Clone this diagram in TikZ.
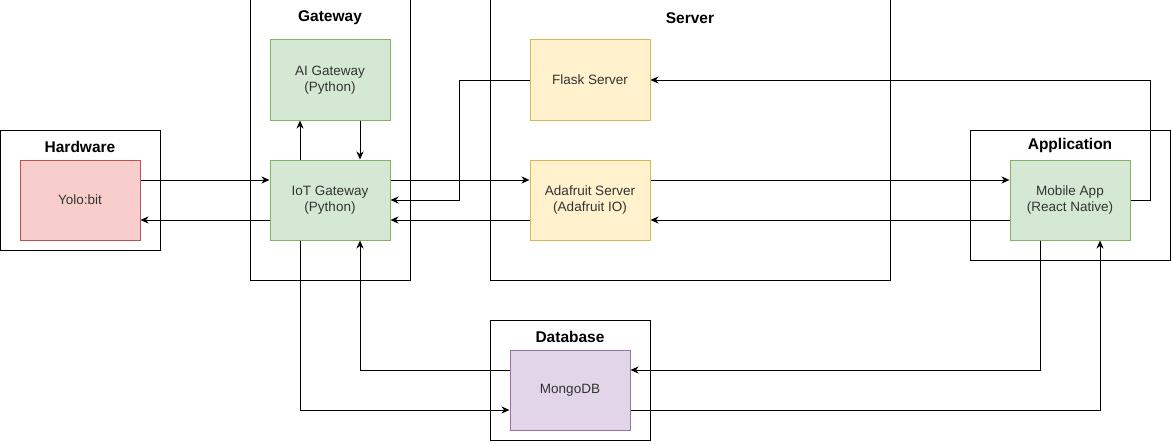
\documentclass[tikz,border=0pt]{standalone}
\usepackage{fontspec}
\setmainfont{Liberation Sans}
\usepackage{tikz}
\usetikzlibrary{arrows.meta}
\definecolor{texte}{HTML}{333333}
\definecolor{vertfond}{HTML}{D5E8D4}\definecolor{vertbord}{HTML}{82B366}
\definecolor{rougefond}{HTML}{F8CECC}\definecolor{rougebord}{HTML}{B85450}
\definecolor{jaunefond}{HTML}{FFF2CC}\definecolor{jaunebord}{HTML}{D6B656}
\definecolor{violetfond}{HTML}{E1D5E7}\definecolor{violetbord}{HTML}{9673A6}
\tikzset {groupe/.style={draw=black,line width=1pt,minimum width=#1},
          titre/.style={font=\fontsize{15.5}{18}\selectfont\bfseries},
          boite/.style 2 args={draw=#2,fill=#1,line width=1pt,minimum width=120,
            minimum height=80,align=center,text=texte,
            font=\fontsize{13.5}{16}\selectfont},
          fleche/.style={-{Stealth[length=8pt,width=7pt,inset=2.5pt]},line width=1pt}}
\begin{document}
\begin{tikzpicture}[x=1pt,y=-1pt]
  \useasboundingbox (0,0) rectangle (1172,444);
  % cadres
  \node [groupe=160,minimum height=120] (hardware) at (80,190) {};
  \node [groupe=160,minimum height=280] (gateway) at (330,140) {};
  \node [groupe=400,minimum height=280] (server) at (690,140) {};
  \node [groupe=200,minimum height=130] (application) at (1070,195) {};
  \node [groupe=160,minimum height=120] (database) at (570,380) {};
  \node [titre] (thardware) at (80,147) {Hardware};
  \node [titre] (tgateway) at (330,18) {Gateway};
  \node [titre] (tserver) at (690,18) {Server};
  \node [titre] (tapplication) at (1070,145) {Application};
  \node [titre] (tdatabase) at (570,337) {Database};
  % boites
  \node [boite={rougefond}{rougebord}] (yolo) at (80,200) {Yolo:bit};
  \node [boite={vertfond}{vertbord}] (ai) at (330,80) {AI Gateway\\(Python)};
  \node [boite={vertfond}{vertbord}] (iot) at (330,200) {IoT Gateway\\(Python)};
  \node [boite={jaunefond}{jaunebord}] (flask) at (590,80) {Flask Server};
  \node [boite={jaunefond}{jaunebord}] (adafruit) at (590,200) {Adafruit Server\\(Adafruit IO)};
  \node [boite={vertfond}{vertbord}] (mobile) at (1070,200) {Mobile App\\(React Native)};
  \node [boite={violetfond}{violetbord}] (mongo) at (570,390) {MongoDB};
  % liaisons
  \draw [fleche] ([yshift=20pt]yolo.east) -- ([yshift=20pt]iot.west);
  \draw [fleche] ([yshift=-20pt]iot.west) -- ([yshift=-20pt]yolo.east);
  \draw [fleche] ([xshift=-30pt]iot.north) -- ([xshift=-30pt]ai.south);
  \draw [fleche] ([xshift=30pt]ai.south) -- ([xshift=30pt]iot.north);
  \draw [fleche] ([yshift=20pt]iot.east) -- ([yshift=20pt]adafruit.west);
  \draw [fleche] (flask.west) -- ++(-70,0) |- (iot.east);
  \draw [fleche] ([yshift=-20pt]adafruit.west) -- ([yshift=-20pt]iot.east);
  \draw [fleche] ([yshift=20pt]adafruit.east) -- ([yshift=20pt]mobile.west);
  \draw [fleche] ([yshift=-20pt]mobile.west) -- ([yshift=-20pt]adafruit.east);
  \draw [fleche] (mobile.east) -- ++(20,0) |- (flask.east);
  \draw [fleche] ([xshift=-30pt]iot.south) |- ([yshift=-20pt]mongo.west);
  \draw [fleche] ([yshift=20pt]mongo.west) -| ([xshift=30pt]iot.south);
  \draw [fleche] ([xshift=-30pt]mobile.south) |- ([yshift=20pt]mongo.east);
  \draw [fleche] ([yshift=-20pt]mongo.east) -| ([xshift=30pt]mobile.south);
\end{tikzpicture}
\end{document}
